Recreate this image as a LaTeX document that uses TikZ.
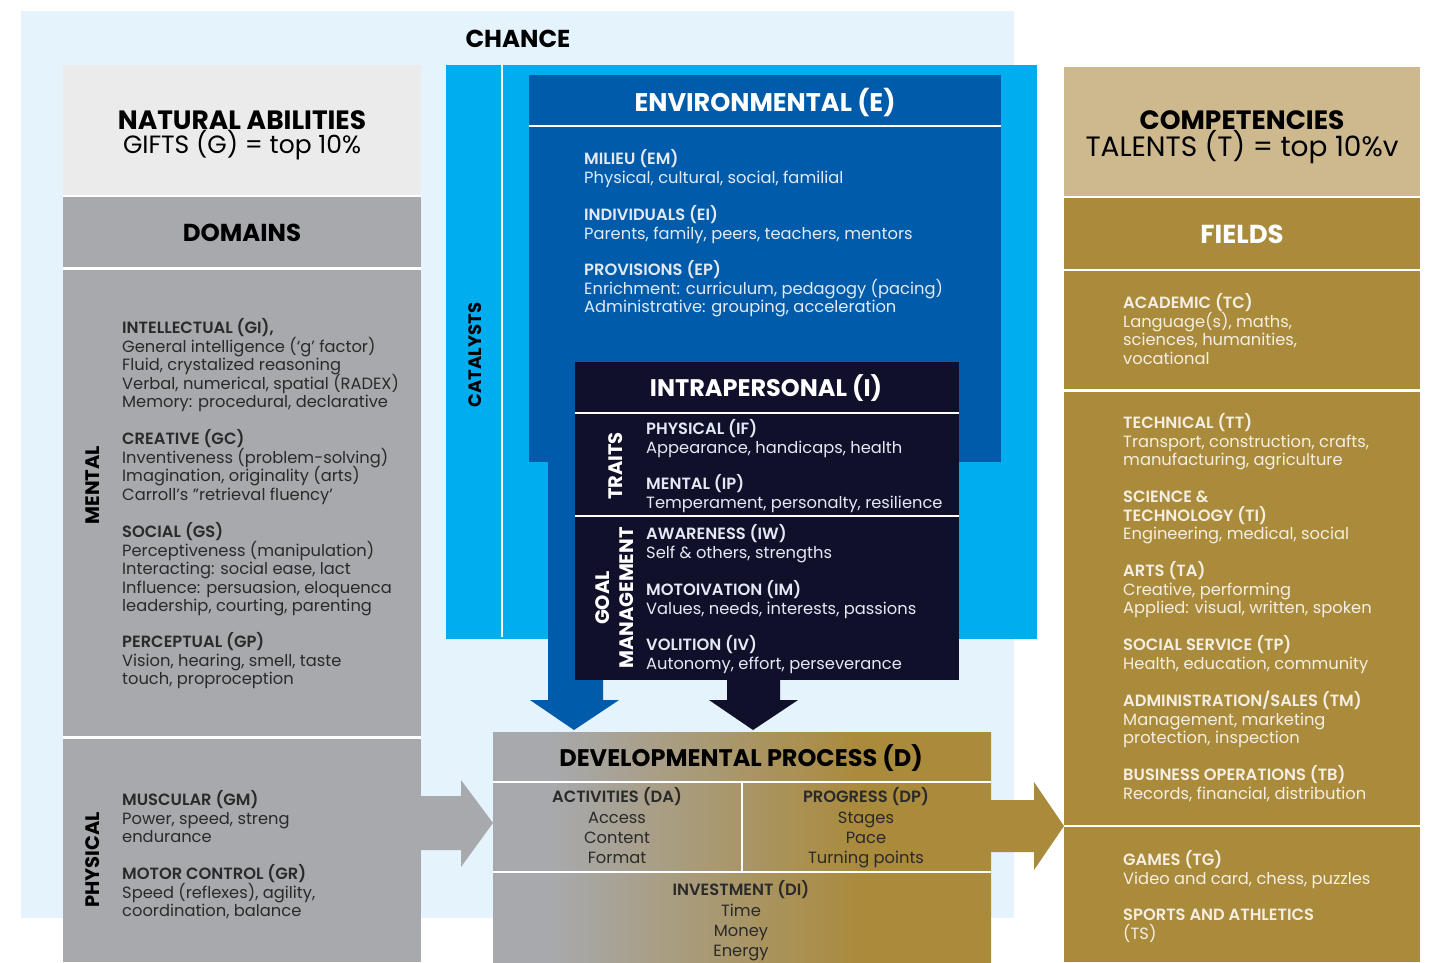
\documentclass[tikz,border=0pt]{standalone}
\usepackage{fontspec}
\setmainfont{Poppins}
\newfontfamily\semibold{Poppins SemiBold}
\usetikzlibrary{positioning}

\definecolor{chancebg}{HTML}{E4F3FC}
\definecolor{natgray}{HTML}{EBEBEB}
\definecolor{domgray}{HTML}{A8A9AD}
\definecolor{catblue}{HTML}{00AEEF}
\definecolor{envblue}{HTML}{005BAA}
\definecolor{intranavy}{HTML}{10102A}
\definecolor{comptan}{HTML}{CEB98E}
\definecolor{fieldgold}{HTML}{AA8A3B}
\definecolor{inkgray}{HTML}{2A2A2A}
\definecolor{paleblue}{HTML}{E3EAF4}
\definecolor{palegold}{HTML}{F5EFE3}
\pgfdeclarehorizontalshading{devshade}{100bp}{color(0bp)=(domgray); color(31bp)=(domgray); color(62bp)=(fieldgold); color(100bp)=(fieldgold)}

\newcommand\hd[1]{{\semibold #1}}
\newcommand\st{\rule{0pt}{16pt}}
\newcommand\tight{\lineskiplimit-50pt\relax\lineskip0pt\relax}

\tikzset{
  ttl/.style={inner sep=0pt, font=\fontsize{#1}{#1}\selectfont\bfseries},
  ttl/.default=24,
  sub/.style={inner sep=0pt, font=\fontsize{#1}{#1}\selectfont},
  side/.style={inner sep=0pt, rotate=90, align=center, font=\fontsize{#1}{24}\selectfont\bfseries},
  side/.default=19.5,
  body/.style={anchor=north west, inner sep=0pt, align=left, text=#1, font=\fontsize{16.3}{18.5}\selectfont\tight},
  devtext/.style={anchor=north, inner sep=0pt, align=center, text=inkgray, font=\fontsize{16.3}{20.3}\selectfont\tight},
  sep/.style={white, line width=2.5pt},
}

\begin{document}
\begin{tikzpicture}[x=1pt,y=-1pt]
  \useasboundingbox (0,0) rectangle (1439,962);
  \fill[white] (0,0) rectangle (1439,962);
  \fill[chancebg] (21,11) rectangle (1014,918);
  \node[ttl=24.5] (chance) at (518,39) {CHANCE};

  % natural abilities
  \fill[natgray] (63,65) rectangle (421,196);
  \fill[domgray] (63,196) rectangle (421,962);
  \draw[sep] (63,196) -- (421,196);
  \draw[sep] (63,268.5) -- (421,268.5);
  \draw[sep] (63,737.5) -- (421,737.5);
  \node[ttl=26.5] (nat) at (242,120) {NATURAL ABILITIES};
  \node[sub=25] (gifts) at (242,145) {GIFTS (G) = top 10\%};
  \node[ttl=24.5] (domains) at (242,233) {DOMAINS};
  \node[side] (mental) at (93,485) {MENTAL};
  \node[side] (physical) at (93,860) {PHYSICAL};
  \node[body=inkgray] (gi) at (122,317.7) {\st\hd{INTELLECTUAL (GI),}\\General intelligence (‘g’ factor)\\Fluid, crystalized reasoning\\Verbal, numerical, spatial (RADEX)\\Memory: procedural, declarative};
  \node[body=inkgray] (gc) at (122,428.7) {\st\hd{CREATIVE (GC)}\\Inventiveness (problem-solving)\\Imagination, originality (arts)\\Carroll’s "retrieval fluency’};
  \node[body=inkgray] (gs) at (122,521.7) {\st\hd{SOCIAL (GS)}\\Perceptiveness (manipulation)\\Interacting: social ease, lact\\Influence: persuasion, eloquenca\\leadership, courting, parenting};
  \node[body=inkgray] (gp) at (122,631.7) {\st\hd{PERCEPTUAL (GP)}\\Vision, hearing, smell, taste\\touch, proproception};
  \node[body=inkgray] (gm) at (122,789.7) {\st\hd{MUSCULAR (GM)}\\Power, speed, streng\\endurance};
  \node[body=inkgray] (gr) at (122,863.7) {\st\hd{MOTOR CONTROL (GR)}\\Speed (reflexes), agility,\\coordination, balance};

  % catalysts
  \fill[catblue] (446,65) rectangle (1037,639);
  \draw[white, line width=2pt] (502,65) -- (502,637);
  \node[side=18] (catalysts) at (475,355) {CATALYSTS};
  \fill[envblue] (529,75) rectangle (1001,462);
  \draw[sep] (529,126) -- (1001,126);
  \node[ttl=25.5, text=white] (env) at (765,103) {ENVIRONMENTAL (E)};
  \node[body=paleblue] (em) at (584,148.7) {\st\hd{MILIEU (EM)}\\Physical, cultural, social, familial};
  \node[body=paleblue] (ei) at (584,204.7) {\st\hd{INDIVIDUALS (EI)}\\Parents, family, peers, teachers, mentors};
  \node[body=paleblue] (ep) at (584,259.7) {\st\hd{PROVISIONS (EP)}\\Enrichment: curriculum, pedagogy (pacing)\\Administrative: grouping, acceleration};
  \fill[envblue] (548,462) -- (603,462) -- (603,700) -- (619,700) -- (574,730) -- (530,700) -- (548,700) -- cycle;

  \fill[intranavy] (575,362) rectangle (959,680);
  \draw[sep] (575,413) -- (959,413);
  \draw[sep] (575,516) -- (959,516);
  \node[ttl=24, text=white] (intra) at (766,388) {INTRAPERSONAL (I)};
  \node[side, text=white] (traits) at (616,466) {TRAITS};
  \node[side, text=white] (goal) at (615,598) {GOAL\\MANAGEMENT};
  \node[body=paleblue] (if) at (646,418.7) {\st\hd{PHYSICAL (IF)}\\Appearance, handicaps, health};
  \node[body=paleblue] (ip) at (646,473.7) {\st\hd{MENTAL (IP)}\\Temperament, personalty, resilience};
  \node[body=paleblue] (iw) at (646,523.7) {\st\hd{AWARENESS (IW)}\\Self \& others, strengths};
  \node[body=paleblue] (im) at (646,579.7) {\st\hd{MOTOIVATION (IM)}\\Values, needs, interests, passions};
  \node[body=paleblue] (iv) at (646,634.7) {\st\hd{VOLITION (IV)}\\Autonomy, effort, perseverance};
  \fill[intranavy] (727,680) -- (780,680) -- (780,700) -- (798,700) -- (753,730) -- (709,700) -- (727,700) -- cycle;

  % developmental process
  \shade[shading=devshade] (493,732) rectangle (991,962);
  \draw[sep] (493,782) -- (991,782);
  \draw[sep] (493,872) -- (991,872);
  \draw[sep] (742,782) -- (742,872);
  \node[ttl=24] (dev) at (741,758) {DEVELOPMENTAL PROCESS (D)};
  \node[devtext] (da) at (617,786.7) {\st\hd{ACTIVITIES (DA)}\\Access\\Content\\Format};
  \node[devtext] (dp) at (866,786.7) {\st\hd{PROGRESS (DP)}\\Stages\\Pace\\Turning points};
  \node[devtext] (di) at (741,879.7) {\st\hd{INVESTMENT (DI)}\\Time\\Money\\Energy};
  \fill[domgray] (421,796) -- (461,796) -- (461,780) -- (493,823) -- (461,867) -- (461,850) -- (421,850) -- cycle;
  \fill[fieldgold] (991,800) -- (1034,800) -- (1034,782) -- (1064,826) -- (1034,870) -- (1034,852) -- (991,852) -- cycle;

  % competencies
  \fill[comptan] (1064,67) rectangle (1420,197);
  \fill[fieldgold] (1064,197) rectangle (1420,962);
  \draw[sep] (1064,197) -- (1420,197);
  \draw[sep] (1064,270) -- (1420,270);
  \draw[sep] (1064,390.5) -- (1420,390.5);
  \draw[sep] (1064,826) -- (1420,826);
  \node[ttl=26.5] (comp) at (1242,120) {COMPETENCIES};
  \node[sub=28] (talents) at (1242,147) {TALENTS (T) = top 10\%v};
  \node[ttl=26, text=white] (fields) at (1242,234) {FIELDS};
  \node[body=palegold] (tc) at (1123,292.7) {\st\hd{ACADEMIC (TC)}\\Language(s), maths,\\sciences, humanities,\\vocational};
  \node[body=palegold] (tt) at (1123,412.7) {\st\hd{TECHNICAL (TT)}\\Transport, construction, crafts,\\manufacturing, agriculture};
  \node[body=palegold] (ti) at (1123,486.7) {\st\hd{SCIENCE \&}\\\hd{TECHNOLOGY (TI)}\\Engineering, medical, social};
  \node[body=palegold] (ta) at (1123,560.7) {\st\hd{ARTS (TA)}\\Creative, performing\\Applied: visual, written, spoken};
  \node[body=palegold] (tp) at (1123,634.7) {\st\hd{SOCIAL SERVICE (TP)}\\Health, education, community};
  \node[body=palegold] (tm) at (1123,690.7) {\st\hd{ADMINISTRATION/SALES (TM)}\\Management, marketing\\protection, inspection};
  \node[body=palegold] (tb) at (1123,764.7) {\st\hd{BUSINESS OPERATIONS (TB)}\\Records, financial, distribution};
  \node[body=palegold] (tg) at (1123,849.7) {\st\hd{GAMES (TG)}\\Video and card, chess, puzzles};
  \node[body=palegold] (ts) at (1123,904.7) {\st\hd{SPORTS AND ATHLETICS}\\(TS)};
\end{tikzpicture}
\end{document}
